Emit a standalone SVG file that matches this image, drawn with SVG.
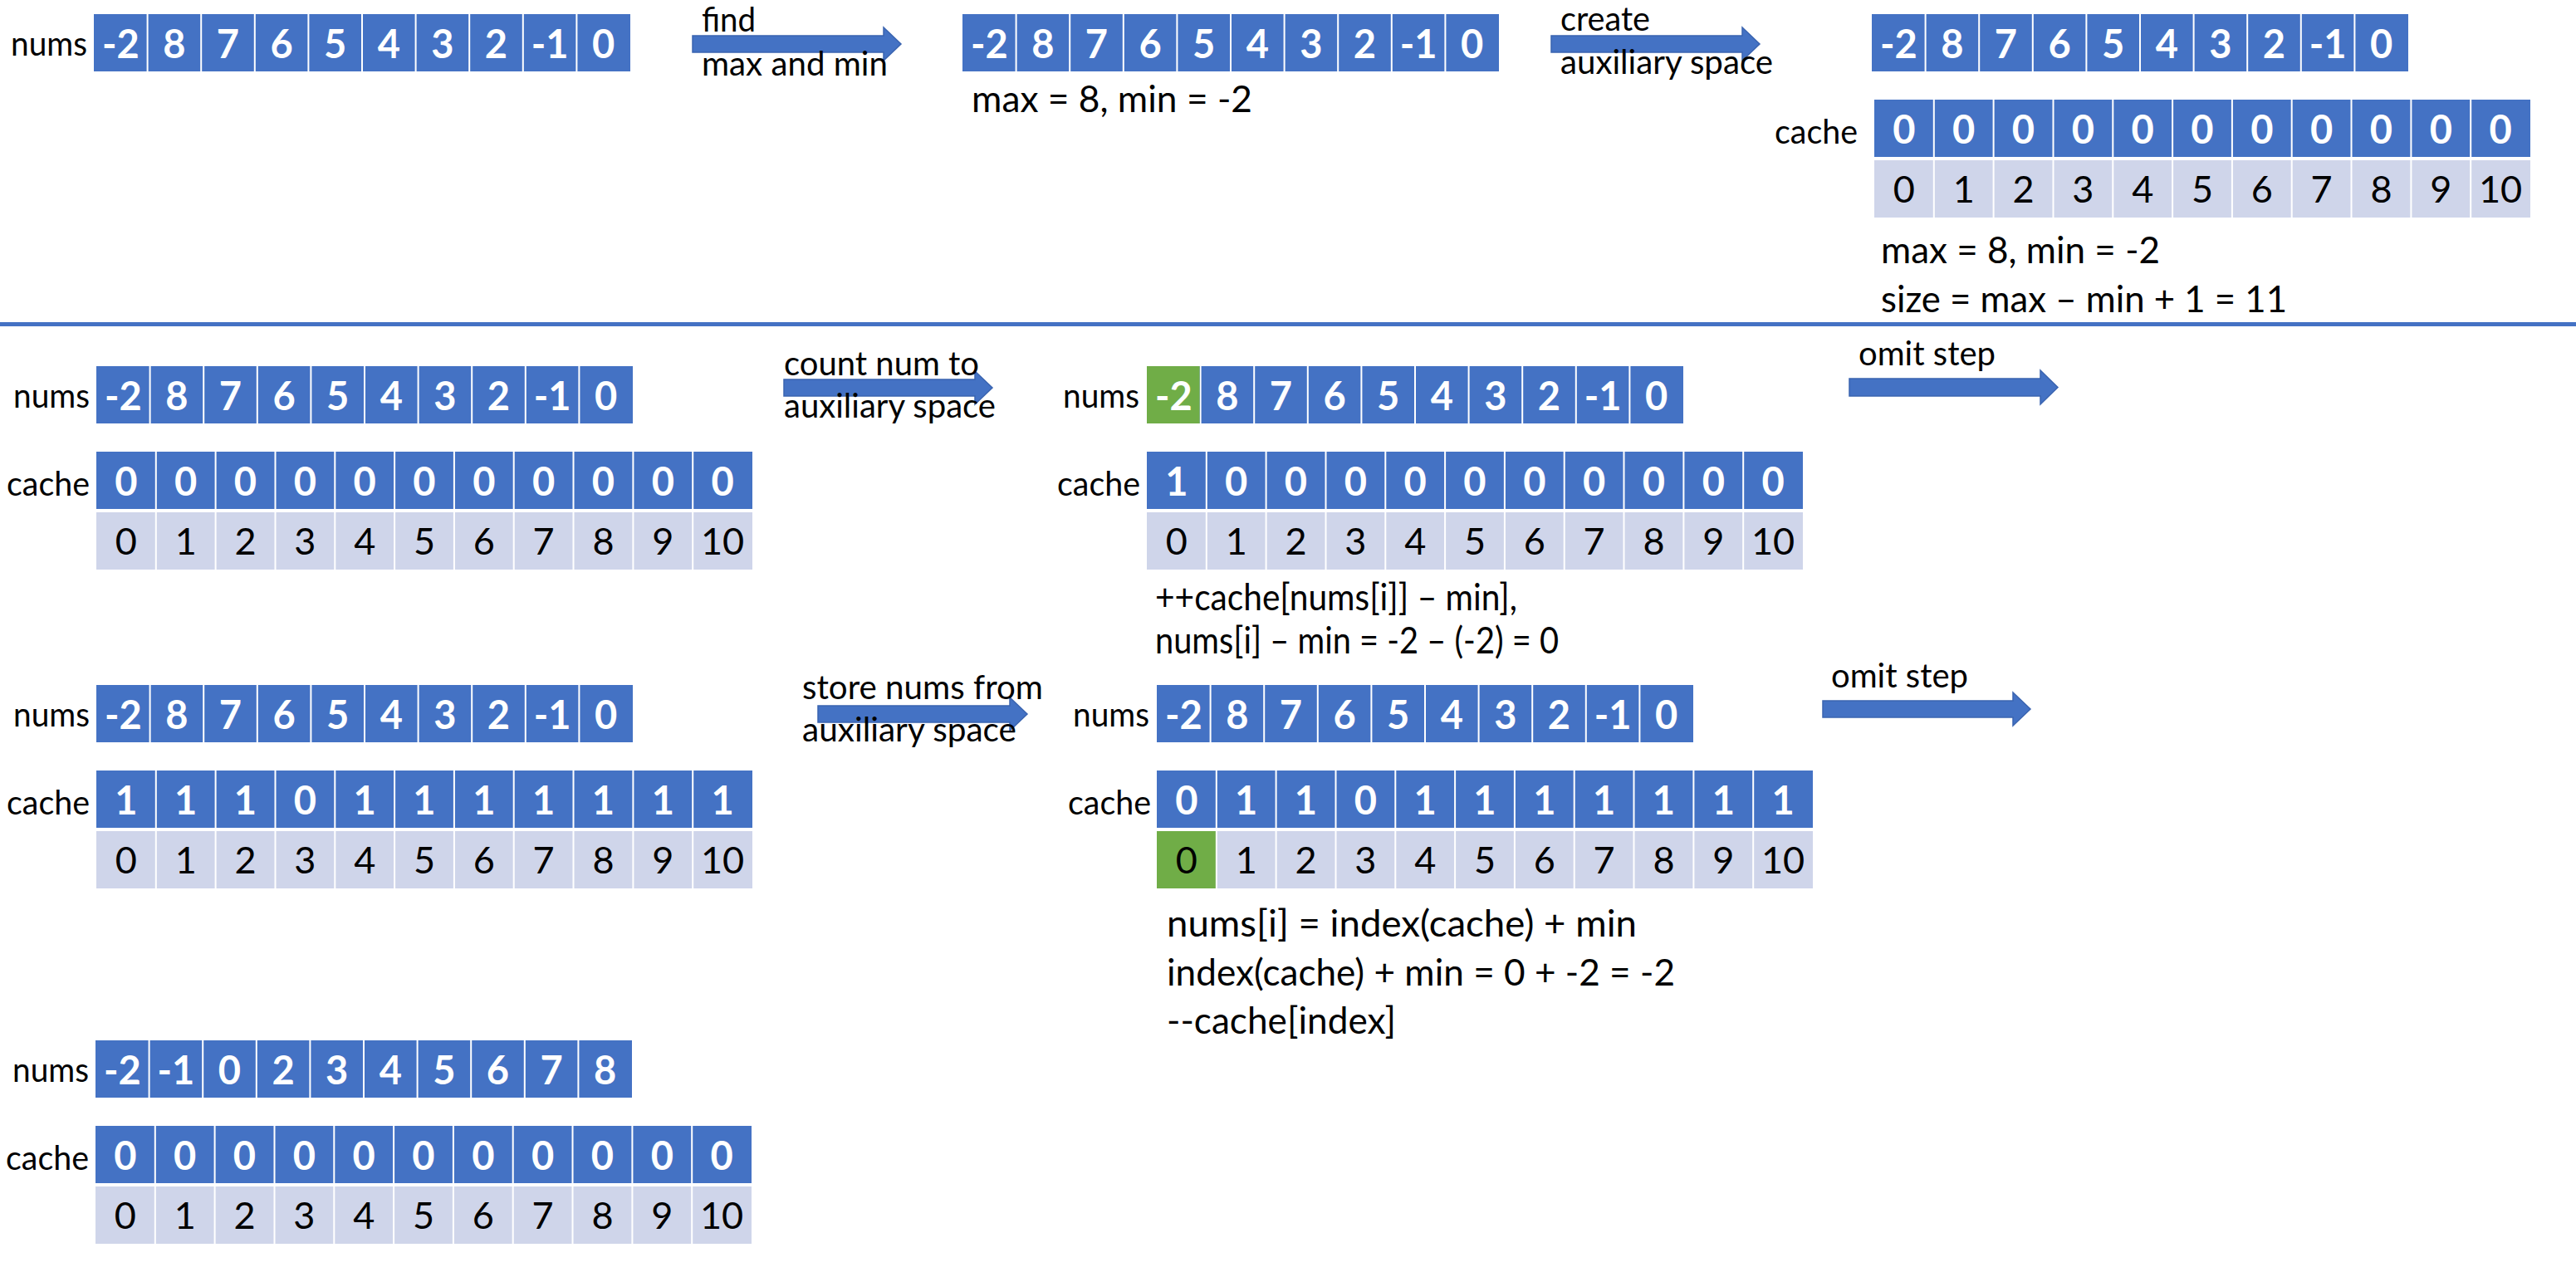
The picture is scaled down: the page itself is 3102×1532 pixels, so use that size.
<svg xmlns="http://www.w3.org/2000/svg" width="3102" height="1532" viewBox="0 0 3102 1532">
<style>
.bg{fill:#ffffff}
.blue{fill:#4472C4}
.idx{fill:#CFD5EA}
.green{fill:#70AD47}
.sep{stroke:#ffffff;stroke-width:2;fill:none}
.v{font-family:Lato,'Liberation Sans',sans-serif;font-weight:bold;font-size:47px;fill:#ffffff;text-anchor:middle}
.i{font-family:Lato,'Liberation Sans',sans-serif;font-size:45px;fill:#000000;text-anchor:middle}
.lab{font-family:Lato,'Liberation Sans',sans-serif;font-size:40px;fill:#000000;text-anchor:end}
.al{font-family:Lato,'Liberation Sans',sans-serif;font-size:40px;fill:#000000}
.note{font-family:Lato,'Liberation Sans',sans-serif;font-size:44.5px;fill:#000000}
.arrow{fill:#4472C4;stroke:#3A64B0;stroke-width:1.5}
.rule{fill:#4472C4}
</style>
<defs>
<g id="numsBg">
<rect class="blue" x="0" y="0" width="646" height="69"/>
<path class="sep" d="M64.6 0V69M129.2 0V69M193.8 0V69M258.4 0V69M323 0V69M387.6 0V69M452.2 0V69M516.8 0V69M581.4 0V69"/>
</g>
<g id="numsRow">
<use href="#numsBg"/>
<text class="v" x="32.3" y="53">-2</text>
<text class="v" x="96.9" y="53">8</text>
<text class="v" x="161.5" y="53">7</text>
<text class="v" x="226.1" y="53">6</text>
<text class="v" x="290.7" y="53">5</text>
<text class="v" x="355.3" y="53">4</text>
<text class="v" x="419.9" y="53">3</text>
<text class="v" x="484.5" y="53">2</text>
<text class="v" x="549.1" y="53">-1</text>
<text class="v" x="613.7" y="53">0</text>
</g>
<g id="cacheBg">
<rect class="blue" x="0" y="0" width="790" height="69"/>
<path class="sep" d="M71.8 0V69M143.6 0V69M215.5 0V69M287.3 0V69M359.1 0V69M430.9 0V69M502.7 0V69M574.5 0V69M646.4 0V69M718.2 0V69"/>
</g>
<g id="idxRow">
<rect class="idx" x="0" y="0" width="790" height="69"/>
<path class="sep" d="M71.8 0V69M143.6 0V69M215.5 0V69M287.3 0V69M359.1 0V69M430.9 0V69M502.7 0V69M574.5 0V69M646.4 0V69M718.2 0V69"/>
<text class="i" x="35.9" y="50.5">0</text>
<text class="i" x="107.7" y="50.5">1</text>
<text class="i" x="179.5" y="50.5">2</text>
<text class="i" x="251.4" y="50.5">3</text>
<text class="i" x="323.2" y="50.5">4</text>
<text class="i" x="395" y="50.5">5</text>
<text class="i" x="466.8" y="50.5">6</text>
<text class="i" x="538.6" y="50.5">7</text>
<text class="i" x="610.5" y="50.5">8</text>
<text class="i" x="682.3" y="50.5">9</text>
<text class="i" x="754.1" y="50.5">10</text>
</g>
<g id="zeroRow">
<use href="#cacheBg"/>
<text class="v" x="35.9" y="53">0</text>
<text class="v" x="107.7" y="53">0</text>
<text class="v" x="179.5" y="53">0</text>
<text class="v" x="251.4" y="53">0</text>
<text class="v" x="323.2" y="53">0</text>
<text class="v" x="395" y="53">0</text>
<text class="v" x="466.8" y="53">0</text>
<text class="v" x="538.6" y="53">0</text>
<text class="v" x="610.5" y="53">0</text>
<text class="v" x="682.3" y="53">0</text>
<text class="v" x="754.1" y="53">0</text>
</g>
</defs>
<rect class="bg" x="0" y="0" width="3102" height="1532"/>

<!-- Step 1: input -->
<g id="step1-input">
<text class="lab" x="105" y="67" textLength="92" lengthAdjust="spacingAndGlyphs">nums</text>
<use href="#numsRow" x="113" y="17"/>
</g>

<!-- Step 2: find max and min -->
<g id="step2-maxmin">
<use href="#numsRow" x="1159" y="17"/>
<text class="note" x="1170" y="135" textLength="338" lengthAdjust="spacingAndGlyphs">max = 8, min = -2</text>
</g>

<!-- Step 3: auxiliary space -->
<g id="step3-aux">
<use href="#numsRow" x="2254" y="17"/>
<text class="lab" x="2237" y="173" textLength="100" lengthAdjust="spacingAndGlyphs">cache</text>
<use href="#zeroRow" x="2257" y="120"/>
<use href="#idxRow" x="2257" y="193"/>
<text class="note" x="2265" y="317" textLength="336" lengthAdjust="spacingAndGlyphs">max = 8, min = -2</text>
<text class="note" x="2265" y="376" textLength="489" lengthAdjust="spacingAndGlyphs">size = max – min + 1 = 11</text>
</g>

<rect id="divider" class="rule" x="0" y="388" width="3102" height="5"/>

<!-- Step 4: count start -->
<g id="step4-count-start">
<text class="lab" x="108" y="491" textLength="92" lengthAdjust="spacingAndGlyphs">nums</text>
<use href="#numsRow" x="116" y="441"/>
<text class="lab" x="108" y="597" textLength="100" lengthAdjust="spacingAndGlyphs">cache</text>
<use href="#zeroRow" x="116" y="544"/>
<use href="#idxRow" x="116" y="617"/>
</g>

<!-- Step 5: count first -->
<g id="step5-count-first">
<text class="lab" x="1372" y="491" textLength="92" lengthAdjust="spacingAndGlyphs">nums</text>
<use href="#numsRow" x="1381" y="441"/>
<rect class="green" x="1381" y="441" width="63.6" height="69"/>
<text class="v" x="1413.3" y="494">-2</text>
<text class="lab" x="1373" y="597" textLength="100" lengthAdjust="spacingAndGlyphs">cache</text>
<use href="#cacheBg" x="1381" y="544"/>
<g transform="translate(1381 544)">
<text class="v" x="35.9" y="53">1</text>
<text class="v" x="107.7" y="53">0</text>
<text class="v" x="179.5" y="53">0</text>
<text class="v" x="251.4" y="53">0</text>
<text class="v" x="323.2" y="53">0</text>
<text class="v" x="395" y="53">0</text>
<text class="v" x="466.8" y="53">0</text>
<text class="v" x="538.6" y="53">0</text>
<text class="v" x="610.5" y="53">0</text>
<text class="v" x="682.3" y="53">0</text>
<text class="v" x="754.1" y="53">0</text>
</g>
<use href="#idxRow" x="1381" y="617"/>
<text class="note" x="1391" y="735" textLength="436" lengthAdjust="spacingAndGlyphs">++cache[nums[i]] – min],</text>
<text class="note" x="1391" y="787" textLength="486" lengthAdjust="spacingAndGlyphs">nums[i] – min = -2 – (-2) = 0</text>
</g>

<!-- Step 6: counted -->
<g id="step6-counted">
<text class="lab" x="108" y="875" textLength="92" lengthAdjust="spacingAndGlyphs">nums</text>
<use href="#numsRow" x="116" y="825"/>
<text class="lab" x="108" y="981" textLength="100" lengthAdjust="spacingAndGlyphs">cache</text>
<use href="#cacheBg" x="116" y="928"/>
<g transform="translate(116 928)">
<text class="v" x="35.9" y="53">1</text>
<text class="v" x="107.7" y="53">1</text>
<text class="v" x="179.5" y="53">1</text>
<text class="v" x="251.4" y="53">0</text>
<text class="v" x="323.2" y="53">1</text>
<text class="v" x="395" y="53">1</text>
<text class="v" x="466.8" y="53">1</text>
<text class="v" x="538.6" y="53">1</text>
<text class="v" x="610.5" y="53">1</text>
<text class="v" x="682.3" y="53">1</text>
<text class="v" x="754.1" y="53">1</text>
</g>
<use href="#idxRow" x="116" y="1001"/>
</g>

<!-- Step 7: store first -->
<g id="step7-store-first">
<text class="lab" x="1384" y="875" textLength="92" lengthAdjust="spacingAndGlyphs">nums</text>
<use href="#numsRow" x="1393" y="825"/>
<text class="lab" x="1386" y="981" textLength="100" lengthAdjust="spacingAndGlyphs">cache</text>
<use href="#cacheBg" x="1393" y="928"/>
<g transform="translate(1393 928)">
<text class="v" x="35.9" y="53">0</text>
<text class="v" x="107.7" y="53">1</text>
<text class="v" x="179.5" y="53">1</text>
<text class="v" x="251.4" y="53">0</text>
<text class="v" x="323.2" y="53">1</text>
<text class="v" x="395" y="53">1</text>
<text class="v" x="466.8" y="53">1</text>
<text class="v" x="538.6" y="53">1</text>
<text class="v" x="610.5" y="53">1</text>
<text class="v" x="682.3" y="53">1</text>
<text class="v" x="754.1" y="53">1</text>
</g>
<use href="#idxRow" x="1393" y="1001"/>
<rect class="green" x="1393" y="1001" width="70.8" height="69"/>
<text class="i" x="1428.9" y="1051.5">0</text>
<text class="note" x="1405" y="1128" textLength="566" lengthAdjust="spacingAndGlyphs">nums[i] = index(cache) + min</text>
<text class="note" x="1405" y="1187" textLength="612" lengthAdjust="spacingAndGlyphs">index(cache) + min = 0 + -2 = -2</text>
<text class="note" x="1405" y="1245" textLength="276" lengthAdjust="spacingAndGlyphs">--cache[index]</text>
</g>

<!-- Step 8: result -->
<g id="step8-result">
<text class="lab" x="107" y="1303" textLength="92" lengthAdjust="spacingAndGlyphs">nums</text>
<use href="#numsBg" x="115" y="1253"/>
<g transform="translate(115 1253)">
<text class="v" x="32.3" y="53">-2</text>
<text class="v" x="96.9" y="53">-1</text>
<text class="v" x="161.5" y="53">0</text>
<text class="v" x="226.1" y="53">2</text>
<text class="v" x="290.7" y="53">3</text>
<text class="v" x="355.3" y="53">4</text>
<text class="v" x="419.9" y="53">5</text>
<text class="v" x="484.5" y="53">6</text>
<text class="v" x="549.1" y="53">7</text>
<text class="v" x="613.7" y="53">8</text>
</g>
<text class="lab" x="107" y="1409" textLength="100" lengthAdjust="spacingAndGlyphs">cache</text>
<use href="#zeroRow" x="115" y="1356"/>
<use href="#idxRow" x="115" y="1429"/>
</g>

<!-- Connectors (block arrows with labels) -->
<g id="connectors">
<polygon class="arrow" points="834,43 1064,43 1064,33 1085,53 1064,73 1064,63 834,63"/>
<text class="al" x="845" y="38" textLength="65" lengthAdjust="spacingAndGlyphs">find</text>
<text class="al" x="845" y="91" textLength="224" lengthAdjust="spacingAndGlyphs">max and min</text>

<polygon class="arrow" points="1868,43 2098,43 2098,33 2119,53 2098,73 2098,63 1868,63"/>
<text class="al" x="1879" y="37" textLength="108" lengthAdjust="spacingAndGlyphs">create</text>
<text class="al" x="1879" y="89" textLength="256" lengthAdjust="spacingAndGlyphs">auxiliary space</text>

<polygon class="arrow" points="944,457 1174,457 1174,447 1195,467 1174,487 1174,477 944,477"/>
<text class="al" x="944" y="452" textLength="235" lengthAdjust="spacingAndGlyphs">count num to</text>
<text class="al" x="944" y="503" textLength="255" lengthAdjust="spacingAndGlyphs">auxiliary space</text>

<polygon class="arrow" points="2227,456 2457,456 2457,446 2478,466.5 2457,487 2457,477 2227,477"/>
<text class="al" x="2238" y="440" textLength="165" lengthAdjust="spacingAndGlyphs">omit step</text>

<polygon class="arrow" points="985,850 1216,850 1216,840 1237,860 1216,880 1216,870 985,870"/>
<text class="al" x="966" y="842" textLength="290" lengthAdjust="spacingAndGlyphs">store nums from</text>
<text class="al" x="966" y="893" textLength="258" lengthAdjust="spacingAndGlyphs">auxiliary space</text>

<polygon class="arrow" points="2195,844 2424,844 2424,834 2445,854 2424,874 2424,864 2195,864"/>
<text class="al" x="2205" y="828" textLength="165" lengthAdjust="spacingAndGlyphs">omit step</text>
</g>
</svg>
